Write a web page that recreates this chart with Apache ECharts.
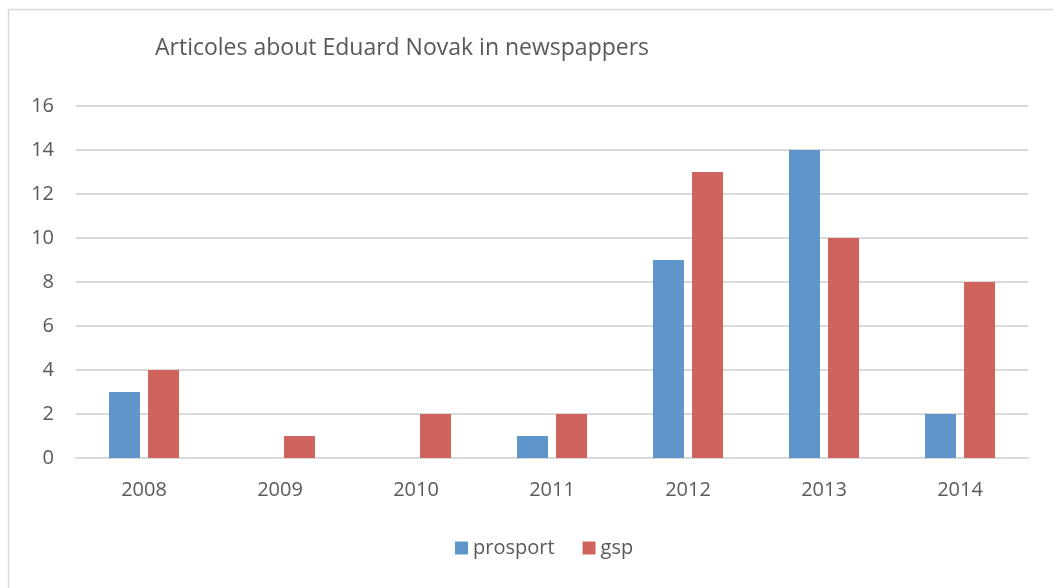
<!DOCTYPE html>
<html><head><meta charset="utf-8">
<script src="https://cdn.jsdelivr.net/npm/echarts@6/dist/echarts.min.js"></script>
<style>html,body{margin:0;padding:0;background:#fff}#c{width:1053px;height:588px}</style>
</head><body><div id="c"></div>
<script>
const categories = ['2008','2009','2010','2011','2012','2013','2014'];
const prosport = [3, 0, 0, 1, 9, 14, 2];
const gsp = [4, 1, 2, 2, 13, 10, 8];
const yTicks = [0, 2, 4, 6, 8, 10, 12, 14, 16];
const titleText = 'Articoles about Eduard Novak in newspappers';

const font = 'Open Sans, Lato, sans-serif';
const chart = echarts.init(document.getElementById('c'));
chart.setOption({
  animation: false,
  backgroundColor: '#fff',
  graphic: [{type:'rect', shape:{x:8.5,y:9.5,width:1100,height:700}, style:{fill:'none', stroke:'#d9d9d9', lineWidth:1.5}, z:-1}],
  title: {text: titleText, left: 150, top: 32, textStyle:{fontFamily:font, fontSize:23, fontWeight:'normal', color:'#595959'}},
  legend: {bottom: 25, left: 450, itemWidth: 13, itemHeight: 13, itemGap: 28, icon: 'rect',
    textStyle:{fontFamily:font, fontSize:20, color:'#595959'}},
  grid: {left: 76, right: 25, top: 106, bottom: 130, containLabel: false},
  xAxis: {type:'category', data: categories,
    axisLine:{lineStyle:{color:'#d9d9d9', width:2}}, axisTick:{show:false},
    axisLabel:{fontFamily:font, fontSize:20, color:'#595959', margin:22}},
  yAxis: {type:'value', min: yTicks[0], max: yTicks[yTicks.length-1], interval: 2,
    axisLine:{show:false}, axisTick:{show:false},
    splitLine:{lineStyle:{color:'#d9d9d9', width:2}},
    axisLabel:{fontFamily:font, fontSize:20, color:'#595959', margin:22}},
  series: [
    {name:'prosport', type:'bar', data: prosport, barWidth: 31, barGap:'26%', itemStyle:{color:'#5E95CB'}},
    {name:'gsp', type:'bar', data: gsp, barWidth: 31, itemStyle:{color:'#CF635D'}}
  ]
});
</script></body></html>
